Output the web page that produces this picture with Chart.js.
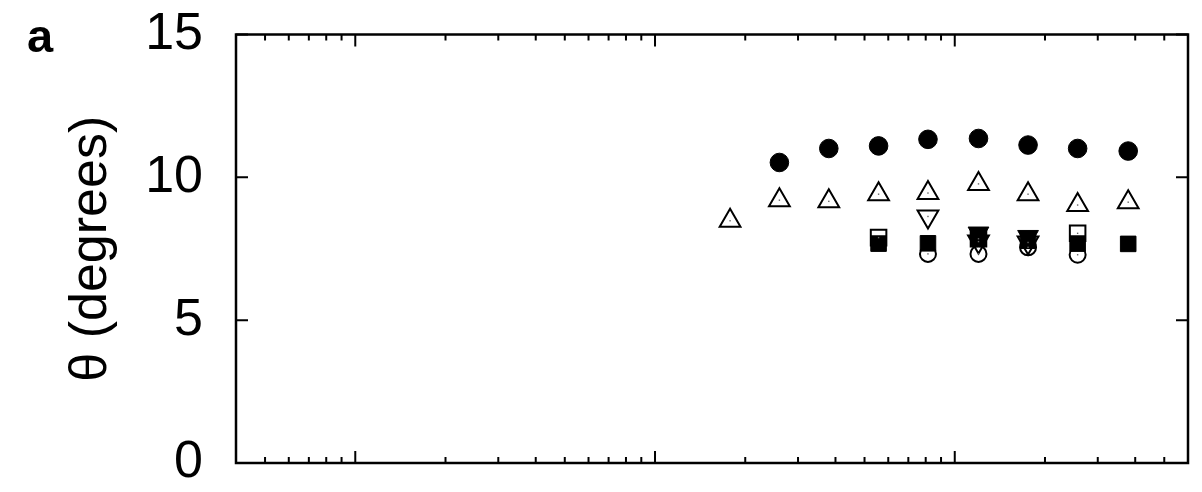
<!DOCTYPE html>
<html>
<head>
<meta charset="utf-8">
<script src="https://cdn.jsdelivr.net/npm/chart.js@4.4.1/dist/chart.umd.min.js"></script>
<style>
html,body{margin:0;padding:0;background:#fff;}
#wrap{width:1202px;height:492px;}
</style>
</head>
<body>
<div id="wrap"><canvas id="c" width="1202" height="492"></canvas></div>
<script>
// ---- data ----
const xValues        = [17.8, 26.0, 38.0, 55.7, 81.4, 120, 175.6, 257, 379];
const filledCircle   = [null, 10.52, 11.01, 11.10, 11.33, 11.36, 11.13, 11.01, 10.92];
const openTriUp      = [8.48, 9.20, 9.16, 9.41, 9.45, 9.77, 9.41, 9.03, 9.13];
const filledTriDown  = [null, null, null, null, null, 8.05, 7.93, null, null];
const filledSquare   = [null, null, null, 7.68, 7.69, 7.85, 7.78, 7.68, 7.67];
const openTriDown    = [null, null, null, null, 8.63, 7.75, 7.72, null, null];
const openSquare     = [null, null, null, 7.89, null, 7.85, null, 8.04, null];
const openCircle     = [null, null, null, null, 7.32, 7.32, 7.55, 7.29, null];

const yTicks       = [0, 5, 10, 15];
const xMajorTicks  = [1, 10, 100];
const xMinorTicks  = [0.5, 0.6, 0.7, 0.8, 0.9,
                      2, 3, 4, 5, 6, 7, 8, 9,
                      20, 30, 40, 50, 60, 70, 80, 90,
                      200, 300, 400, 500];
const yAxisTitle = 'θ (degrees)';
const panelLabel = 'a';

const toPoints = arr => xValues.map((x, i) => ({x, y: arr[i]})).filter(p => p.y !== null);

const FONT = '"Liberation Sans", Arial, Helvetica, sans-serif';
const NONE = 'rgba(0,0,0,0)';

function ds(label, arr, style, filled, radius, rotation) {
  return {
    label,
    data: toPoints(arr),
    showLine: false,
    pointStyle: style,
    pointRadius: radius,
    pointHoverRadius: radius,
    pointRotation: rotation || 0,
    pointBackgroundColor: filled ? '#000' : NONE,
    pointBorderColor: '#000',
    pointBorderWidth: filled ? 1 : 2,
    isOpen: !filled
  };
}

const datasets = [
  ds('filled square', filledSquare, 'rect', true, 11),
  ds('filled triangle down', filledTriDown, 'triangle', true, 12, 180),
  ds('filled circle', filledCircle, 'circle', true, 9.3),
  ds('open triangle up', openTriUp, 'triangle', false, 12),
  ds('open triangle down', openTriDown, 'triangle', false, 12, 180),
  ds('open square', openSquare, 'rect', false, 11),
  ds('open circle', openCircle, 'circle', false, 8)
];

const framePlugin = {
  id: 'frame',
  afterDatasetsDraw(chart) {
    const ctx = chart.ctx;
    ctx.save();
    ctx.fillStyle = '#666';
    chart.data.datasets.forEach((d, i) => {
      if (!d.isOpen) return;
      chart.getDatasetMeta(i).data.forEach(el => {
        ctx.fillRect(el.x - 0.7, el.y - 0.7, 1.4, 1.4);
      });
    });
    ctx.restore();
  },
  afterDraw(chart) {
    const {ctx, chartArea: a, scales: {x, y}} = chart;
    ctx.save();
    ctx.strokeStyle = '#000';
    ctx.lineWidth = 2.5;
    ctx.strokeRect(a.left, a.top, a.right - a.left, a.bottom - a.top);
    ctx.lineWidth = 2;
    ctx.beginPath();
    const minorLen = 6, majorLen = 12;
    xMinorTicks.forEach(v => {
      const px = x.getPixelForValue(v);
      ctx.moveTo(px, a.bottom); ctx.lineTo(px, a.bottom - minorLen);
      ctx.moveTo(px, a.top); ctx.lineTo(px, a.top + minorLen);
    });
    xMajorTicks.forEach(v => {
      const px = x.getPixelForValue(v);
      ctx.moveTo(px, a.bottom); ctx.lineTo(px, a.bottom - majorLen);
      ctx.moveTo(px, a.top); ctx.lineTo(px, a.top + majorLen);
    });
    yTicks.forEach(v => {
      const py = y.getPixelForValue(v);
      ctx.moveTo(a.left, py); ctx.lineTo(a.left + majorLen, py);
      ctx.moveTo(a.right, py); ctx.lineTo(a.right - majorLen, py);
    });
    ctx.stroke();
    ctx.fillStyle = '#000';
    ctx.font = 'bold 47px ' + FONT;
    ctx.textBaseline = 'alphabetic';
    ctx.textAlign = 'left';
    ctx.fillText(panelLabel, 27, 52);
    ctx.restore();
  }
};

new Chart(document.getElementById('c'), {
  type: 'scatter',
  data: { datasets },
  options: {
    responsive: false,
    devicePixelRatio: 1,
    animation: false,
    layout: { padding: { left: 0, top: 34.5, right: 7, bottom: 29 } },
    plugins: { legend: { display: false }, tooltip: { enabled: false } },
    scales: {
      x: {
        type: 'logarithmic',
        min: 0.4,
        max: 600,
        display: false
      },
      y: {
        type: 'linear',
        min: 0,
        max: 15,
        afterBuildTicks(scale) { scale.ticks = yTicks.map(v => ({value: v})); },
        afterFit(scale) {
          scale.width = 236;
          scale.paddingTop = 0;
          scale.paddingBottom = 0;
        },
        grid: { display: false },
        border: { display: false },
        ticks: {
          color: '#000',
          padding: 25,
          font: { family: FONT, size: 52, lineHeight: 1.0 }
        },
        title: {
          display: true,
          text: yAxisTitle,
          color: '#000',
          padding: { top: 60, bottom: 0 },
          font: { family: FONT, size: 52, lineHeight: 1.2 }
        }
      }
    }
  },
  plugins: [framePlugin]
});
</script>
</body>
</html>
